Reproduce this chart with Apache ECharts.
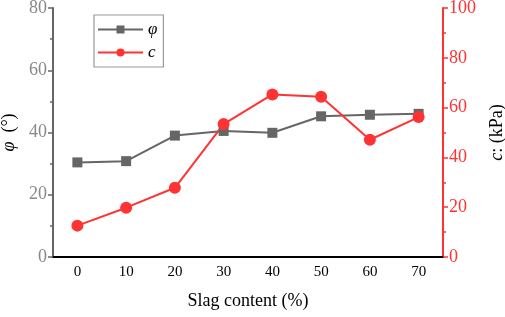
<!DOCTYPE html>
<html><head><meta charset="utf-8">
<script src="https://cdn.jsdelivr.net/npm/echarts@6/dist/echarts.min.js"></script>
<style>html,body{margin:0;padding:0;background:#fff}#c{width:505px;height:317px}</style>
</head><body><div id="c"></div>
<script>
const categories = ['0','10','20','30','40','50','60','70'];
const phiValues = [30.4, 30.8, 39.0, 40.5, 39.9, 45.2, 45.7, 46.0];
const cValues = [12.6, 19.8, 27.8, 53.4, 65.3, 64.4, 47.1, 56.2];
const leftTicks = [0, 80, 20];
const rightTicks = [0, 100, 20];

const FONT = '"Liberation Serif", "DejaVu Serif", serif';
const GRAY = '#666666';
const RED = '#ff3333';
const chart = echarts.init(document.getElementById('c'), null, {renderer: 'canvas'});
chart.setOption({
  animation: false,
  backgroundColor: '#fff',
  textStyle: {fontFamily: FONT},
  grid: {left: 53, right: 62, top: 8, bottom: 60, containLabel: false, outerBoundsMode: 'none'},
  legend: {
    left: 94, top: 15, orient: 'vertical',
    itemWidth: 45, itemHeight: 10, itemGap: 6,
    padding: [6, 6, 6, 3],
    borderColor: '#999', borderWidth: 1.2,
    textStyle: {fontFamily: FONT, fontStyle: 'italic', fontSize: 17, color: '#000'},
    data: ['φ', 'c']
  },
  xAxis: {
    type: 'category', data: categories, boundaryGap: true,
    axisLine: {lineStyle: {color: '#000', width: 2}},
    axisTick: {alignWithLabel: true, length: 5, lineStyle: {color: '#000', width: 1.5}},
    axisLabel: {color: '#000', fontSize: 15, fontFamily: FONT, margin: 8},
    name: 'Slag content (%)', nameLocation: 'middle', nameGap: 35,
    nameTextStyle: {color: '#000', fontSize: 18, fontFamily: FONT}
  },
  yAxis: [{
    type: 'value', min: leftTicks[0], max: leftTicks[1], interval: leftTicks[2],
    axisLine: {show: true, lineStyle: {color: GRAY, width: 2}},
    axisTick: {show: true, length: 5, lineStyle: {color: GRAY, width: 1.5}},
    minorTick: {show: true, splitNumber: 2, length: 3, lineStyle: {color: GRAY, width: 1.5}},
    splitLine: {show: false},
    axisLabel: {color: '#888', fontSize: 18, fontFamily: FONT, margin: 6},
    name: '{i|φ}{n|  (°)}', nameLocation: 'middle', nameGap: 34, nameRotate: 90,
    nameTextStyle: {rich: {
      i: {fontStyle: 'italic', fontSize: 18, fontFamily: FONT, color: '#000'},
      n: {fontSize: 18, fontFamily: FONT, color: '#000'}
    }}
  }, {
    type: 'value', position: 'right', min: rightTicks[0], max: rightTicks[1], interval: rightTicks[2],
    axisLine: {show: true, lineStyle: {color: RED, width: 2}},
    axisTick: {show: true, length: 5, lineStyle: {color: RED, width: 1.5}},
    minorTick: {show: true, splitNumber: 2, length: 3, lineStyle: {color: RED, width: 1.5}},
    splitLine: {show: false},
    axisLabel: {color: RED, fontSize: 18, fontFamily: FONT, margin: 6},
    name: '{i|c}{n|: (kPa)}', nameLocation: 'middle', nameGap: 45, nameRotate: 90,
    nameTextStyle: {rich: {
      i: {fontStyle: 'italic', fontSize: 18, fontFamily: FONT, color: '#000'},
      n: {fontSize: 18, fontFamily: FONT, color: '#000'}
    }}
  }],
  series: [{
    name: 'φ', type: 'line', yAxisIndex: 0, data: phiValues,
    symbol: 'rect', symbolSize: 10,
    lineStyle: {color: GRAY, width: 2},
    itemStyle: {color: GRAY}
  }, {
    name: 'c', type: 'line', yAxisIndex: 1, data: cValues,
    symbol: 'circle', symbolSize: 12,
    lineStyle: {color: RED, width: 2},
    itemStyle: {color: RED}
  }]
});
</script></body></html>
